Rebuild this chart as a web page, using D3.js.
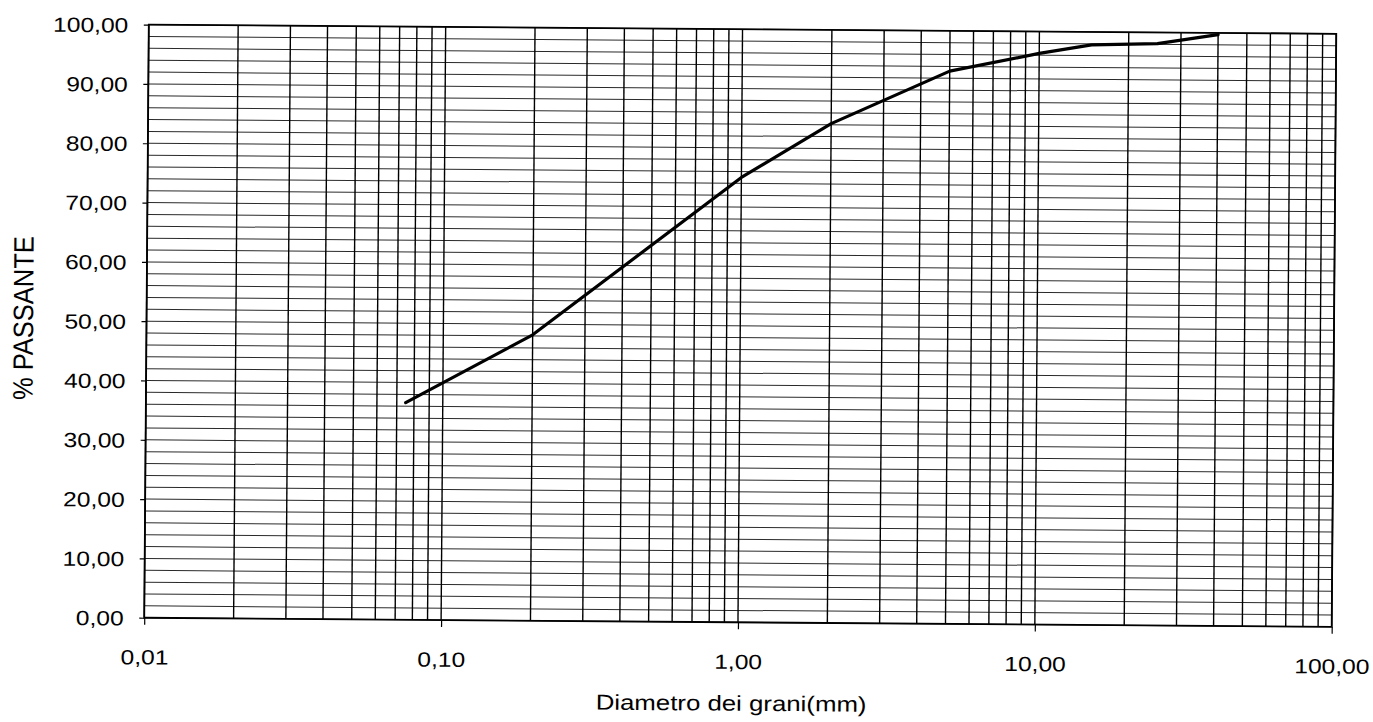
<!DOCTYPE html>
<html><head><meta charset="utf-8">
<script src="https://cdn.jsdelivr.net/npm/d3@7"></script>
<style>html,body{margin:0;padding:0;background:#fff;}svg{display:block}</style>
</head><body>
<svg id="chart" width="1373" height="722"></svg>
<script>
// ---- data ----
const diameters = [0.075, 0.2, 1, 2, 5, 10, 15, 25, 40];          // mm
const passing   = [36.6, 48.2, 75.0, 84.2, 93.2, 96.3, 97.8, 98.1, 99.7]; // %
const xTickValues = [0.01, 0.1, 1, 10, 100];
const yTickValues = [0, 10, 20, 30, 40, 50, 60, 70, 80, 90, 100];
const xTitle = "Diametro dei grani(mm)";
const yTitle = "% PASSANTE";

// ---- layout ----
const L = 146.5, R = 1334, T = 29.2, B = 622.3;
const FONT = "'Liberation Sans', Arial, Helvetica, sans-serif";
const svg = d3.select("#chart");
const g = svg.append("g").attr("transform", "rotate(0.44,740,326)");

const x = d3.scaleLog().domain([0.01, 100]).range([L, R]);
const y = d3.scaleLinear().domain([0, 100]).range([B, T]);

const loc = d3.formatLocale({decimal: ",", thousands: ".", grouping: [3], currency: ["", "€"]});
const fmt = loc.format(".2f");

// gridlines
const grid = g.append("g");
grid.selectAll("line.h").data(y.ticks(50)).join("line")
  .attr("x1", L).attr("x2", R).attr("y1", d => y(d)).attr("y2", d => y(d))
  .attr("stroke", "#2a2a2a").attr("stroke-width", 1);
grid.selectAll("line.v").data(x.ticks()).join("line")
  .attr("y1", T).attr("y2", B).attr("x1", d => x(d)).attr("x2", d => x(d))
  .attr("stroke", "#000").attr("stroke-width", 1.4);

// border
g.append("rect").attr("x", L).attr("y", T).attr("width", R - L).attr("height", B - T)
  .attr("fill", "none").attr("stroke", "#000").attr("stroke-width", 1.8);

// curve
const pts = diameters.map((d, i) => [d, passing[i]]);
g.append("path").datum(pts)
  .attr("d", d3.line().x(d => x(d[0])).y(d => y(d[1])))
  .attr("fill", "none").attr("stroke", "#000").attr("stroke-width", 3.2)
  .attr("stroke-linejoin", "round").attr("stroke-linecap", "round");

// axes
const ya = g.append("g").attr("transform", `translate(${L},0)`)
  .call(d3.axisLeft(y).tickValues(yTickValues).tickSize(5).tickFormat(fmt));
ya.select(".domain").remove();
ya.attr("font-family", FONT).attr("font-size", 20.5);
ya.selectAll(".tick line").attr("stroke", "#000").attr("stroke-width", 1.2);
ya.selectAll(".tick text").attr("x", 0).attr("dy", "0.358em").attr("fill", "#000")
  .attr("text-anchor", "end").attr("transform", "translate(-20.5,0) scale(1.2,1)");

const xa = g.append("g").attr("transform", `translate(0,${B})`)
  .call(d3.axisBottom(x).tickValues(xTickValues).tickSize(7).tickFormat(fmt));
xa.select(".domain").remove();
xa.attr("font-family", FONT).attr("font-size", 20.5);
xa.selectAll(".tick line").attr("stroke", "#000").attr("stroke-width", 1.2);
xa.selectAll(".tick text").attr("y", 0).attr("dy", "0.358em").attr("fill", "#000")
  .attr("text-anchor", "middle").attr("transform", "translate(0,39.3) scale(1.2,1)");

// titles
g.append("text").text(yTitle)
  .attr("transform", "translate(23,323.5) rotate(-90) scale(1,1.1)")
  .attr("text-anchor", "middle").attr("dy", "0.358em")
  .attr("font-family", FONT).attr("font-size", 25.5).attr("fill", "#000");
g.append("text").text(xTitle)
  .attr("transform", "translate(734,703) scale(1.2,1)")
  .attr("text-anchor", "middle").attr("dy", "0.358em")
  .attr("font-family", FONT).attr("font-size", 21.5).attr("fill", "#000");
</script>
</body></html>
